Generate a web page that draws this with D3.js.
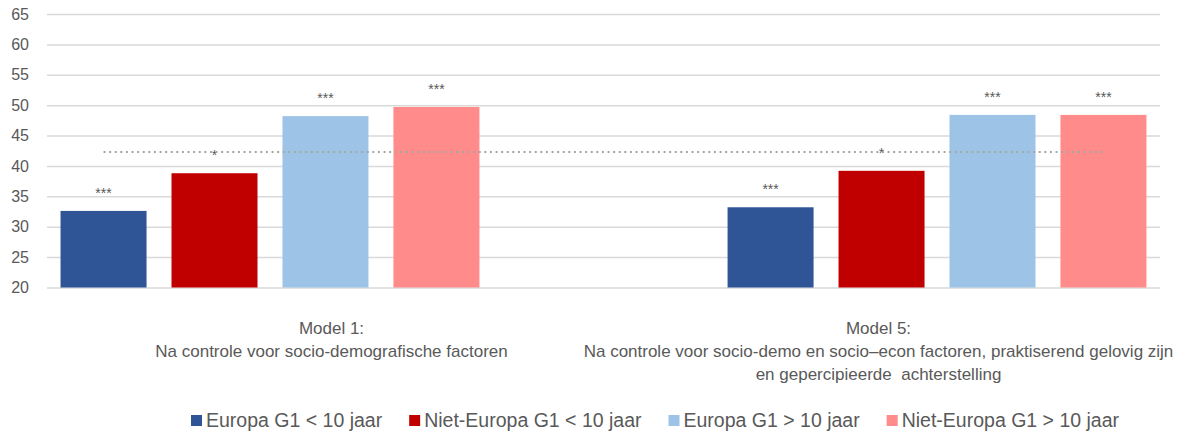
<!DOCTYPE html>
<html>
<head>
<meta charset="utf-8">
<script src="https://cdn.jsdelivr.net/npm/d3@7"></script>
<style>
  html, body { margin: 0; padding: 0; background: #ffffff; }
  svg { display: block; font-family: "Liberation Sans", Arial, sans-serif; }
</style>
</head>
<body>
<svg id="chart" width="1187" height="434"></svg>
<script>
// Groups (models) and their multi-line axis labels
const groups = ["Model 1", "Model 5"];
const groupLabels = [
  ["Model 1:", "Na controle voor socio-demografische factoren"],
  ["Model 5:", "Na controle voor socio-demo en socio\u2013econ factoren, praktiserend gelovig zijn", "en gepercipieerde  achterstelling"]
];

// Series
const seriesNames = ["Europa G1 < 10 jaar", "Niet-Europa G1 < 10 jaar", "Europa G1 > 10 jaar", "Niet-Europa G1 > 10 jaar"];
const seriesColors = ["#2f5597", "#c00000", "#9dc3e6", "#ff8b8b"];

// Values per model
const model1Values = [32.6, 38.8, 48.2, 49.7];
const model5Values = [33.2, 39.2, 48.4, 48.4];

// Significance markers per model
const model1Sig = ["***", "*", "***", "***"];
const model5Sig = ["***", "*", "***", "***"];

// Reference (dotted) level
const referenceValue = 42.3;

// Y axis ticks
const yTicks = [20, 25, 30, 35, 40, 45, 50, 55, 60, 65];

const svg = d3.select("#chart");
const plot = { left: 47, right: 1160, top: 14, bottom: 287.5 };

const y = d3.scaleLinear().domain([20, 65]).range([plot.bottom, plot.top]);

const x0 = d3.scaleBand().domain(groups)
  .range([plot.left, plot.right])
  .paddingInner(0.372).paddingOuter(0.0203);
const x1 = d3.scaleBand().domain(seriesNames)
  .range([0, x0.bandwidth()])
  .paddingInner(0.225).paddingOuter(0);
const xLabel = d3.scaleBand().domain(groups).range([58, 1152]);

// Gridlines and tick labels
const yAxis = d3.axisLeft(y).tickValues(yTicks)
  .tickSize(-(plot.right - plot.left)).tickPadding(18).tickFormat(d3.format("d"));
const gy = svg.append("g").attr("transform", `translate(${plot.left},0)`).call(yAxis);
gy.select(".domain").remove();
gy.selectAll(".tick line").attr("stroke", "#d9d9d9").attr("stroke-width", 1.5);
gy.selectAll(".tick text").attr("fill", "#595959").attr("font-size", 16)
  .attr("font-family", "\"Liberation Sans\", Arial, sans-serif");

// Bars
const data = groups.map((g, gi) => ({
  group: g,
  values: (gi === 0 ? model1Values : model5Values).map((v, si) => ({
    series: seriesNames[si], value: v, color: seriesColors[si],
    sig: (gi === 0 ? model1Sig : model5Sig)[si]
  }))
}));

const gGroups = svg.append("g").selectAll("g").data(data).join("g")
  .attr("transform", d => `translate(${x0(d.group)},0)`);

gGroups.selectAll("rect").data(d => d.values).join("rect")
  .attr("x", d => x1(d.series))
  .attr("width", x1.bandwidth())
  .attr("y", d => y(d.value))
  .attr("height", d => y(20) - y(d.value))
  .attr("fill", d => d.color);

gGroups.selectAll("text.sig").data(d => d.values).join("text")
  .attr("class", "sig")
  .attr("x", d => x1(d.series) + x1.bandwidth() / 2)
  .attr("y", d => y(d.value) - 13)
  .attr("text-anchor", "middle")
  .attr("fill", "#595959")
  .attr("font-size", 14)
  .text(d => d.sig);

// Dotted reference line from first to last bar centre
const xStart = x0(groups[0]) + x1(seriesNames[0]) + x1.bandwidth() / 2;
const xEnd = x0(groups[groups.length - 1]) + x1(seriesNames[seriesNames.length - 1]) + x1.bandwidth() / 2;
svg.append("line")
  .attr("x1", xStart).attr("x2", xEnd)
  .attr("y1", y(referenceValue)).attr("y2", y(referenceValue))
  .attr("stroke", "#a6a6a6").attr("stroke-width", 2)
  .attr("stroke-dasharray", "2,3.6");

// Category labels
const gLabels = svg.append("g").selectAll("text").data(groups).join("text")
  .attr("x", d => xLabel(d) + xLabel.bandwidth() / 2)
  .attr("y", 334)
  .attr("text-anchor", "middle")
  .attr("fill", "#595959")
  .attr("font-size", 17)
  .style("white-space", "pre");
gLabels.selectAll("tspan").data((d, i) => groupLabels[i]).join("tspan")
  .attr("x", function () { return d3.select(this.parentNode).attr("x"); })
  .attr("dy", (d, i) => i === 0 ? 0 : 23)
  .text(d => d);

// Legend
const legend = svg.append("g");
const items = legend.selectAll("g").data(seriesNames).join("g");
items.append("rect")
  .attr("width", 11).attr("height", 11)
  .attr("y", 415)
  .attr("fill", (d, i) => seriesColors[i]);
items.append("text")
  .attr("x", 15).attr("y", 427)
  .attr("fill", "#595959")
  .attr("font-size", 19.5)
  .text(d => d);
let cursor = 0;
const gap = 27;
items.each(function () {
  const w = 15 + d3.select(this).select("text").node().getComputedTextLength();
  d3.select(this).attr("transform", `translate(${cursor},0)`);
  cursor += w + gap;
});
const totalWidth = cursor - gap;
legend.attr("transform", `translate(${655 - totalWidth / 2},0)`);
</script>
</body>
</html>
